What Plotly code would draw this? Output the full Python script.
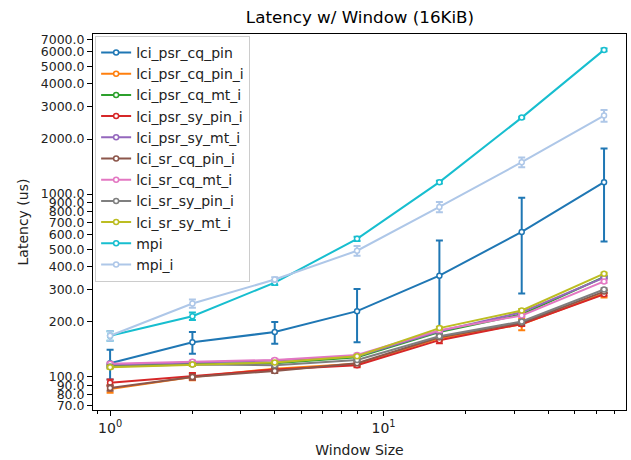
import numpy as np
import plotly.graph_objects as go

window = [1, 2, 4, 8, 16, 32, 64]

series_names = ["lci_psr_cq_pin", "lci_psr_cq_pin_i", "lci_psr_cq_mt_i", "lci_psr_sy_pin_i",
                "lci_psr_sy_mt_i", "lci_sr_cq_pin_i", "lci_sr_cq_mt_i", "lci_sr_sy_pin_i",
                "lci_sr_sy_mt_i", "mpi", "mpi_i"]

lci_psr_cq_pin = [119, 155, 176, 229, 358, 621, 1162]
lci_psr_cq_pin_err = [22, 21, 24, 74, 200, 335, 612]
lci_psr_cq_pin_i = [86, 100, 111, 118, 163, 194, 286]
lci_psr_cq_pin_i_err = [4, 4, 3, 4, 5, 14, 14]
lci_psr_cq_mt_i = [115, 118, 119, 128, 176, 220, 352]
lci_psr_cq_mt_i_err = [2, 2, 2, 2, 3, 4, 5]
lci_psr_sy_pin_i = [93, 101, 110, 116, 159, 195, 283]
lci_psr_sy_pin_i_err = [4, 4, 3, 3, 6, 5, 5]
lci_psr_sy_mt_i = [117, 120, 123, 130, 178, 226, 349]
lci_psr_sy_mt_i_err = [2, 2, 2, 2, 3, 4, 5]
lci_sr_cq_pin_i = [87, 100, 108, 119, 165, 198, 293]
lci_sr_cq_pin_i_err = [3, 3, 3, 3, 4, 4, 5]
lci_sr_cq_mt_i = [118, 121, 124, 132, 180, 217, 333]
lci_sr_cq_mt_i_err = [2, 2, 2, 2, 3, 4, 5]
lci_sr_sy_pin_i = [114, 117, 116, 124, 167, 201, 301]
lci_sr_sy_pin_i_err = [2, 2, 2, 2, 3, 4, 5]
lci_sr_sy_mt_i = [113, 117, 120, 130, 185, 231, 367]
lci_sr_sy_mt_i_err = [2, 2, 2, 2, 3, 4, 5]
mpi = [168, 215, 328, 569, 1162, 2618, 6140]
mpi_err = [10, 10, 10, 15, 20, 30, 100]
mpi_i = [168, 252, 341, 490, 850, 1493, 2685]
mpi_i_err = [10, 13, 10, 30, 55, 90, 200]

colors = ["#1f77b4", "#ff7f0e", "#2ca02c", "#d62728", "#9467bd", "#8c564b",
          "#e377c2", "#7f7f7f", "#bcbd22", "#17becf", "#aec7e8"]

values = [lci_psr_cq_pin, lci_psr_cq_pin_i, lci_psr_cq_mt_i, lci_psr_sy_pin_i, lci_psr_sy_mt_i,
          lci_sr_cq_pin_i, lci_sr_cq_mt_i, lci_sr_sy_pin_i, lci_sr_sy_mt_i, mpi, mpi_i]
errors = [lci_psr_cq_pin_err, lci_psr_cq_pin_i_err, lci_psr_cq_mt_i_err, lci_psr_sy_pin_i_err,
          lci_psr_sy_mt_i_err, lci_sr_cq_pin_i_err, lci_sr_cq_mt_i_err, lci_sr_sy_pin_i_err,
          lci_sr_sy_mt_i_err, mpi_err, mpi_i_err]

y_ticks = [70, 80, 90, 100, 200, 300, 400, 500, 600, 700, 800, 900,
           1000, 2000, 3000, 4000, 5000, 6000, 7000]
x_ticks = [1, 10]
x_ticktext = ["10<sup>0</sup>", "10<sup>1</sup>"]
x_minor = [0.9, 2, 3, 4, 5, 6, 7, 8, 9, 20, 30, 40, 50, 60, 70]

fig = go.Figure()
for name, v, e, c in zip(series_names, values, errors, colors):
    fig.add_trace(go.Scatter(
        x=window, y=v, name=name, mode="lines+markers",
        line=dict(color=c, width=2),
        marker=dict(symbol="circle", size=5, color="white", line=dict(color=c, width=1.5)),
        error_y=dict(type="data", array=e, visible=True, color=c, thickness=2, width=3.5),
    ))

font = "DejaVu Sans"
fig.update_layout(
    width=631, height=460,
    margin=dict(l=93, r=4, t=34, b=48),
    paper_bgcolor="white", plot_bgcolor="white",
    font=dict(family=font, size=13, color="#222"),
    title=dict(text="Latency w/ Window (16KiB)", x=0.5705, xanchor="center",
               y=1 - 17 / 460, yanchor="middle", font=dict(size=16.7, color="black")),
    showlegend=True,
    legend=dict(x=0.004, y=0.995, xanchor="left", yanchor="top",
                bgcolor="rgba(255,255,255,0.8)", bordercolor="#cccccc", borderwidth=1,
                font=dict(size=14, color="#222"), tracegroupgap=0),
)
fig.update_xaxes(
    type="log", range=[np.log10(0.866), np.log10(77)],
    tickmode="array", tickvals=x_ticks, ticktext=x_ticktext,
    ticks="outside", ticklen=5, tickwidth=1, tickcolor="black",
    minor=dict(tickmode="array", tickvals=x_minor, ticks="outside", ticklen=3, tickcolor="black", showgrid=False),
    showline=True, linecolor="black", linewidth=1, mirror=True, showgrid=False, zeroline=False,
    title=dict(text="Window Size", font=dict(size=14, color="#222"), standoff=10),
    tickfont=dict(size=14, color="#222"),
)
fig.update_yaxes(
    type="log", range=[np.log10(66), np.log10(7500)],
    tickmode="array", tickvals=y_ticks, ticktext=[f"{t:.1f}" for t in y_ticks],
    ticks="outside", ticklen=5, tickwidth=1, tickcolor="black",
    showline=True, linecolor="black", linewidth=1, mirror=True, showgrid=False, zeroline=False,
    title=dict(text="Latency (us)", font=dict(size=14, color="#222"), standoff=8),
    tickfont=dict(size=12.5, color="#222"),
)

fig.write_html("out.html")
